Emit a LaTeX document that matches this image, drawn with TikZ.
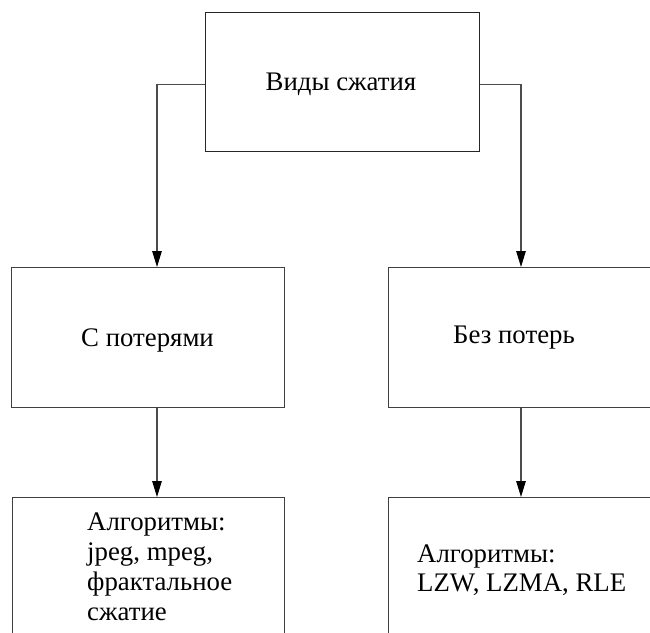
\documentclass[tikz,border=0pt]{standalone}
\usepackage{fontspec}
\setmainfont{Liberation Serif}
\usetikzlibrary{arrows.meta}
\begin{document}
\begin{tikzpicture}[x=1pt,y=-1pt,
  box/.style={draw=black!75, line width=1.2pt, inner sep=0pt, anchor=north west},
  txt/.style={inner sep=0pt, font=\fontsize{26.8}{30}\selectfont, text=black},
  conn/.style={draw=black!70, line width=1.2pt, -{Triangle[length=16pt,width=9.5pt,color=black]}}]
\clip (0,0) rectangle (650,632);
% boxes
\node[box, draw=black!85, minimum width=274pt, minimum height=139pt] (top) at (205,12) {};
\node[box, minimum width=273pt, minimum height=140pt] (lossy) at (11,267) {};
\node[box, minimum width=280pt, minimum height=140pt] (lossless) at (388,267) {};
\node[box, minimum width=272pt, minimum height=150pt] (alg1) at (12,497) {};
\node[box, minimum width=280pt, minimum height=150pt] (alg2) at (388,497) {};
% texts
\node[txt] (ttop) at (341,84) {Виды сжатия};
\node[txt] (tlossy) at (147.5,340) {С потерями};
\node[txt] (tlossless) at (514,338) {Без потерь};
\node[txt, anchor=base west] (talg1) at (87,530) {\vtop{\baselineskip=30pt\hbox{Алгоритмы:}\hbox{jpeg, mpeg,}\hbox{фрактальное}\hbox{сжатие}}};
\node[txt, anchor=base west] (talg2) at (417,562) {\vtop{\baselineskip=29pt\hbox{Алгоритмы:}\hbox{LZW, LZMA, RLE}}};
% connector columns
\coordinate (cl) at (157,0);
\coordinate (cr) at (521,0);
% connectors
\draw[conn] ([yshift=-2.5pt]top.west) -| (lossy.north -| cl);
\draw[conn] ([yshift=-2.5pt]top.east) -| (lossless.north -| cr);
\draw[conn] (lossy.south -| cl) -- (alg1.north -| cl);
\draw[conn] (lossless.south -| cr) -- (alg2.north -| cr);
\end{tikzpicture}
\end{document}
